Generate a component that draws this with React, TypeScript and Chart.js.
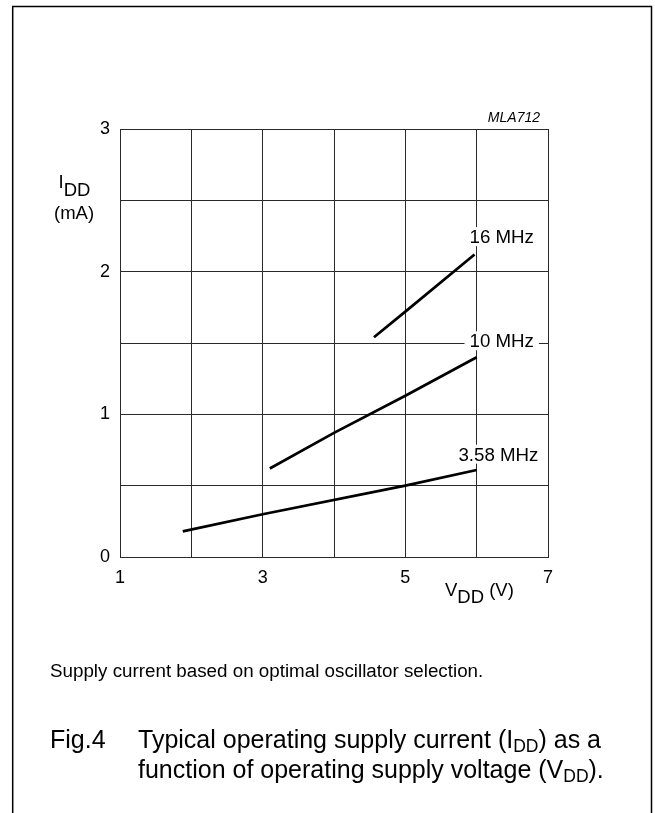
import React, { useEffect, useRef } from 'react';
import { Chart, registerables } from 'chart.js';

Chart.register(...registerables);

const W = 655;
const H = 813;
const FONT = "'Liberation Sans', Arial, Helvetica, sans-serif";

// ---- data ----
const vdd358 = [1.88, 3, 5, 6.0];
const idd358 = [0.18, 0.3, 0.5, 0.61];
const vdd10 = [3.1, 4, 5, 6.0];
const idd10 = [0.62, 0.87, 1.13, 1.4];
const vdd16 = [4.56, 5, 5.97];
const idd16 = [1.54, 1.72, 2.12];

const seriesNames = ['3.58 MHz', '10 MHz', '16 MHz'];
const labelV = [5.745, 5.9, 5.9];
const labelI = [0.675, 1.47, 2.2];

const xTickLabels = [1, 3, 5, 7];
const yTickLabels = [0, 1, 2, 3];

const caption = 'Supply current based on optimal oscillator selection.';
const figNo = 'Fig.4';

type Seg = { t: string; size: number; dy?: number; italic?: boolean };

function drawRich(ctx: CanvasRenderingContext2D, x: number, y: number, segs: Seg[]) {
  let cx = x;
  for (const s of segs) {
    ctx.font = `${s.italic ? 'italic ' : ''}${s.size}px ${FONT}`;
    ctx.fillText(s.t, cx, y + (s.dy || 0));
    cx += ctx.measureText(s.t).width;
  }
}

const decor = {
  id: 'decor',
  afterDatasetsDraw(chart: any) {
    const ctx: CanvasRenderingContext2D = chart.ctx;
    const xs = chart.scales.x;
    const ys = chart.scales.y;
    ctx.save();
    ctx.textAlign = 'left';
    ctx.textBaseline = 'alphabetic';

    // series labels with white background
    ctx.font = `18.7px ${FONT}`;
    seriesNames.forEach((name, i) => {
      const px = xs.getPixelForValue(labelV[i]);
      const py = ys.getPixelForValue(labelI[i]);
      const w = ctx.measureText(name).width;
      ctx.fillStyle = '#fff';
      ctx.fillRect(px - 5, py - 16, w + 10, 19);
      ctx.fillStyle = '#000';
      ctx.fillText(name, px, py);
    });

    ctx.fillStyle = '#000';
    // y axis title
    drawRich(ctx, 58.5, 188, [{ t: 'I', size: 18.5 }, { t: 'DD', size: 18.5, dy: 8 }]);
    ctx.font = `18.5px ${FONT}`;
    ctx.fillText('(mA)', 54, 219);

    // x axis title
    drawRich(ctx, 445, 596, [{ t: 'V', size: 18.5 }, { t: 'DD', size: 18.5, dy: 7 }, { t: ' (V)', size: 18.5 }]);

    // code
    ctx.font = `italic 14px ${FONT}`;
    ctx.textAlign = 'right';
    ctx.fillText('MLA712', 540, 122);
    ctx.textAlign = 'left';

    // caption
    ctx.font = `18.8px ${FONT}`;
    ctx.fillText(caption, 50, 676.5);

    // figure title
    ctx.font = `25px ${FONT}`;
    ctx.fillText(figNo, 50, 748);
    drawRich(ctx, 138, 748, [
      { t: 'Typical operating supply current (I', size: 25 },
      { t: 'DD', size: 17.5, dy: 4 },
      { t: ') as a', size: 25 },
    ]);
    drawRich(ctx, 138, 778, [
      { t: 'function of operating supply voltage (V', size: 25 },
      { t: 'DD', size: 17.5, dy: 4 },
      { t: ').', size: 25 },
    ]);

    // frame
    ctx.strokeStyle = '#000';
    ctx.lineWidth = 1.5;
    ctx.beginPath();
    ctx.moveTo(12.7, H);
    ctx.lineTo(12.7, 6.5);
    ctx.lineTo(651.5, 6.5);
    ctx.lineTo(651.5, H);
    ctx.stroke();
    ctx.restore();
  },
};

export default function App() {
  const ref = useRef<HTMLCanvasElement>(null);
  useEffect(() => {
    const canvas = ref.current;
    if (!canvas) return;
    const mk = (xs: number[], ys: number[]) => xs.map((x, i) => ({ x, y: ys[i] }));
    const ds = (data: any[]) => ({
      data,
      borderColor: '#000',
      borderWidth: 2.7,
      pointRadius: 0,
      fill: false,
      tension: 0,
    });
    const chart = new Chart(canvas, {
      type: 'line',
      data: {
        datasets: [ds(mk(vdd358, idd358)), ds(mk(vdd10, idd10)), ds(mk(vdd16, idd16))],
      },
      options: {
        responsive: false,
        animation: false,
        devicePixelRatio: 1,
        layout: { padding: { left: 80, top: 129, right: 107, bottom: 216 } },
        plugins: { legend: { display: false }, tooltip: { enabled: false }, title: { display: false } },
        scales: {
          x: {
            type: 'linear',
            min: 1,
            max: 7,
            afterFit: (s: any) => { s.height = 40; },
            ticks: {
              stepSize: 1,
              padding: 10,
              maxRotation: 0,
              autoSkip: false,
              color: '#000',
              font: { family: FONT, size: 18 },
              callback: (v: any) => (xTickLabels.includes(Number(v)) ? String(v) : ''),
            },
            grid: { color: '#2a2a2a', lineWidth: 1, drawTicks: false },
            border: { display: true, color: '#2a2a2a', width: 1 },
          },
          y: {
            type: 'linear',
            min: 0,
            max: 3,
            afterFit: (s: any) => { s.width = 40; },
            ticks: {
              stepSize: 0.5,
              padding: 10,
              autoSkip: false,
              color: '#000',
              font: { family: FONT, size: 18 },
              callback: (v: any) => (yTickLabels.includes(Number(v)) ? String(v) : ''),
            },
            grid: { color: '#2a2a2a', lineWidth: 1, drawTicks: false },
            border: { display: true, color: '#2a2a2a', width: 1 },
          },
        },
      },
      plugins: [decor],
    });
    return () => chart.destroy();
  }, []);
  return (
    <div style={{ position: 'absolute', left: 0, top: 0, width: W, height: H, background: '#fff' }}>
      <canvas ref={ref} width={W} height={H} style={{ display: 'block', width: W, height: H }} />
    </div>
  );
}
